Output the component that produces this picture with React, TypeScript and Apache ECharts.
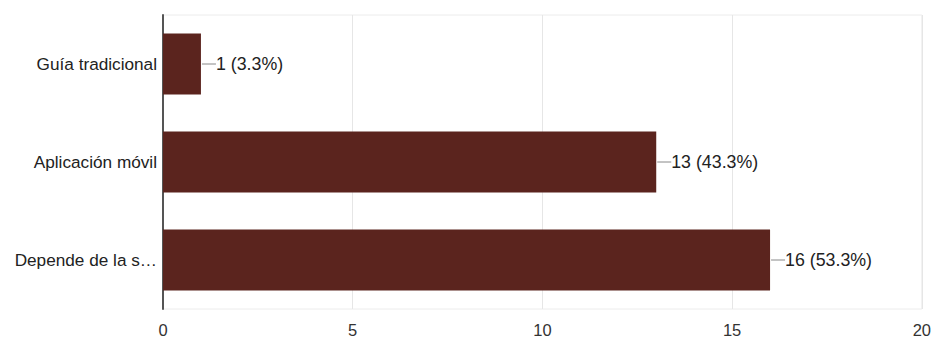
import React, { useEffect, useRef } from "react";
import * as echarts from "echarts";

const categories = ["Guía tradicional", "Aplicación móvil", "Depende de la s…"];
const counts = [1, 13, 16];
const percents = ["3.3%", "43.3%", "53.3%"];
const xTicks = [0, 5, 10, 15, 20];

export default function App() {
  const ref = useRef<HTMLDivElement>(null);
  useEffect(() => {
    if (!ref.current) return;
    const chart = echarts.init(ref.current, null, { renderer: "svg" });
    const font = "Liberation Sans, Arial, Helvetica, sans-serif";
    chart.setOption({
      animation: false,
      backgroundColor: "#ffffff",
      grid: {
        left: 163,
        right: 12,
        top: 15,
        bottom: 27,
        show: true,
        borderColor: "#ececec",
        borderWidth: 1,
      },
      xAxis: {
        type: "value",
        min: xTicks[0],
        max: xTicks[xTicks.length - 1],
        interval: 5,
        axisLine: { show: false },
        axisTick: { show: false },
        splitLine: { show: true, lineStyle: { color: "#e6e6e6", width: 1 } },
        axisLabel: { color: "#333", fontSize: 16.5, fontFamily: font, margin: 12 },
      },
      yAxis: {
        type: "category",
        data: categories,
        inverse: true,
        axisLine: { show: true, lineStyle: { color: "#555", width: 2 } },
        axisTick: { show: false },
        splitLine: { show: false },
        axisLabel: { color: "#222", fontSize: 17.2, fontFamily: font, margin: 6 },
      },
      series: [
        {
          type: "bar",
          data: counts,
          barWidth: 61,
          itemStyle: { color: "#5b241e" },
          label: { show: false },
        },
        {
          type: "custom",
          data: counts.map((v, i) => [v, i]),
          encode: { x: 0, y: 1 },
          renderItem: (params: any, api: any) => {
            const v = api.value(0);
            const idx = api.value(1);
            const p = api.coord([v, idx]);
            const x = p[0];
            const y = p[1];
            return {
              type: "group",
              children: [
                {
                  type: "line",
                  shape: { x1: x + 1, y1: y, x2: x + 15, y2: y },
                  style: { stroke: "#888", lineWidth: 1 },
                },
                {
                  type: "text",
                  style: {
                    x: x + 15,
                    y: y,
                    text: `${counts[idx]} (${percents[idx]})`,
                    fill: "#222",
                    font: `17.8px ${font}`,
                    textVerticalAlign: "middle",
                    verticalAlign: "middle",
                    align: "left",
                  },
                },
              ],
            };
          },
        },
      ],
    });
    return () => chart.dispose();
  }, []);
  return (
    <div
      ref={ref}
      style={{ position: "fixed", left: 0, top: 0, width: 934, height: 338, background: "#fff" }}
    />
  );
}
